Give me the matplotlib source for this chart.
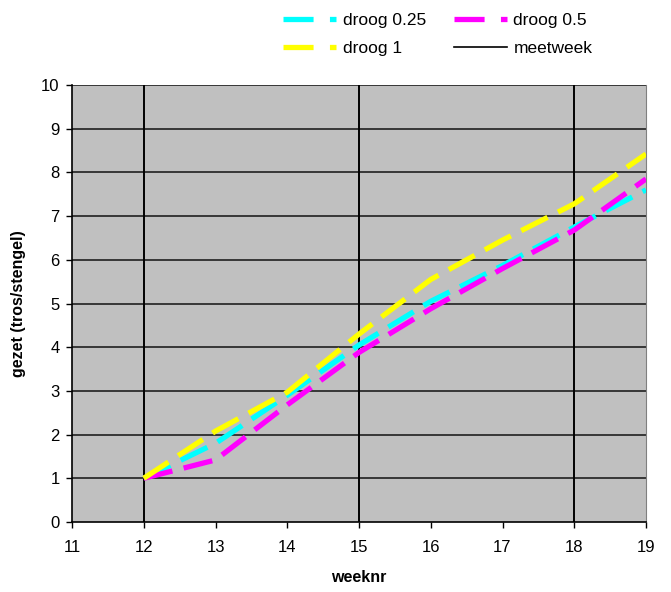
import matplotlib
matplotlib.use("Agg")
import matplotlib.pyplot as plt
from matplotlib.lines import Line2D

plt.rcParams['font.family'] = ['Liberation Sans', 'DejaVu Sans']

weeks = [12, 13, 14, 15, 16, 17, 18, 19]
droog_025 = [1.0, 1.8, 2.9, 4.05, 5.05, 5.87, 6.75, 7.6]
droog_05 = [1.0, 1.42, 2.68, 3.88, 4.88, 5.8, 6.68, 7.85]
droog_1 = [1.0, 2.08, 2.97, 4.3, 5.55, 6.45, 7.28, 8.42]
meetweken = [12, 15, 18]

series = [("droog 0.25", droog_025, "#00FFFF"),
          ("droog 0.5", droog_05, "#FF00FF"),
          ("droog 1", droog_1, "#FFFF00")]

fig = plt.figure(figsize=(6.71, 5.92), dpi=100)
ax = fig.add_axes([72/671, 1-522/592, 574/671, 437/592])
ax.set_facecolor("#C0C0C0")

for y in range(1, 11):
    ax.axhline(y, color="#202020", lw=1.2, zorder=1)

for w in meetweken:
    ax.axvline(w, color="black", lw=1.4, zorder=2)

for name, vals, col in series:
    ln, = ax.plot(weeks, vals, color=col, lw=3.8, solid_capstyle='butt',
                  dash_capstyle='butt', zorder=3, clip_on=True)
    ln.set_dashes((5.6, 2.2))

ax.set_xlim(11, 19)
ax.set_ylim(0, 10)
ax.set_xticks(range(11, 20))
ax.set_yticks(range(0, 11))
ax.tick_params(axis='both', labelsize=12, length=4, width=1, color="black", pad=5)
ax.tick_params(axis='x', pad=9)

for s in ['left', 'bottom']:
    ax.spines[s].set_color("black")
    ax.spines[s].set_linewidth(1.2)
ax.spines['right'].set_color("#808080")
ax.spines['top'].set_visible(False)

ax.set_xlabel("weeknr", fontsize=11.5, fontweight='bold', labelpad=11)
ax.set_ylabel("gezet (tros/stengel)", fontsize=11.5, fontweight='bold', labelpad=11)

meet_handle = Line2D([], [], color="black", lw=1.2)
leg_handles = []
for name, vals, col in series:
    h = Line2D([], [], color=col, lw=3.8, dash_capstyle='butt')
    h.set_dashes((5.7, 3.1, 1.4, 20))
    leg_handles.append(h)
order_h = [leg_handles[0], leg_handles[2], leg_handles[1], meet_handle]
order_l = ["droog 0.25", "droog 1", "droog 0.5", "meetweek"]
fig.legend(order_h, order_l, ncol=2, frameon=False, fontsize=12.5,
           loc='upper left', bbox_to_anchor=(267/671, 1+3/592),
           handlelength=3.1, handletextpad=0.35, columnspacing=1.6,
           labelspacing=0.75)

fig.savefig("out.png", dpi=100)
